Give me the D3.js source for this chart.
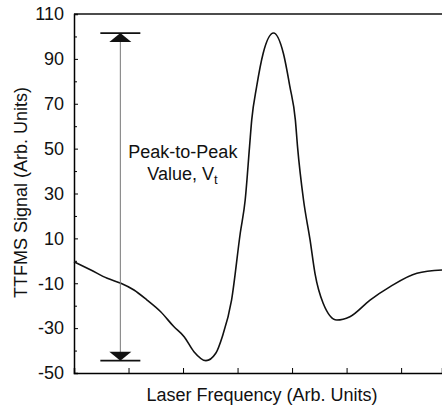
<!DOCTYPE html>
<html>
<head>
<meta charset="utf-8">
<script src="https://cdn.jsdelivr.net/npm/d3@7"></script>
<style>
  body { margin: 0; background: #fff; }
  svg text { font-family: Arial, "Liberation Sans", Helvetica, sans-serif; fill: #111; }
</style>
</head>
<body>
<div id="chart"></div>
<script>
// laser frequency (arb. units) and TTFMS signal
var freq = [0.00, 0.31, 0.61, 0.86, 1.10, 1.34, 1.59, 1.83, 2.02, 2.20, 2.42, 2.60, 2.72, 2.89,
  3.05, 3.14, 3.22, 3.26, 3.35, 3.47, 3.66, 3.84, 3.96, 4.06, 4.10, 4.21, 4.33, 4.42,
  4.57, 4.82, 5.06, 5.43, 5.80, 6.29, 6.75]
var signal = [-0.4, -4.1, -7.8, -10.0, -13.0, -17.5, -22.7, -29.3, -33.8, -40.5, -44.5, -41.2, -33.8, -17.5,
  12.4, 27.1, 50.9, 62.8, 77.6, 92.5, 101.5, 92.5, 77.6, 62.8, 50.9, 27.1, 9.3, -5.6,
  -18.9, -26.4, -24.9, -17.5, -11.5, -5.5, -4.1]
var yTicks = [-50, -30, -10, 10, 30, 50, 70, 90, 110]
var yMinor = [-40, -20, 0, 20, 40, 60, 80, 100]
var xTicks = [1, 2, 3, 4, 5, 6]
var arrowAt = 0.85

var xAxisLabel = "Laser Frequency (Arb. Units)"
var yAxisLabel = "TTFMS Signal (Arb. Units)"

var margin = { top: 14, right: 0, bottom: 33, left: 74 },
  width = 442 - margin.left - margin.right,
  height = 406 - margin.top - margin.bottom;

var svg = d3.select("#chart")
  .append("svg")
  .attr("width", 442)
  .attr("height", 406)
  .append("g")
  .attr("transform", "translate(" + margin.left + "," + margin.top + ")");

var x = d3.scaleLinear().domain([0, 6.75]).range([0, width])
var y = d3.scaleLinear().domain([-50, 110]).range([height, 0])

// left axis, ticks pointing inward
var yAxis = svg.append("g")
  .call(d3.axisLeft(y).tickValues(yTicks).tickSize(-4).tickPadding(10)
    .tickFormat(function (d) { return String(d) }))
yAxis.select(".domain").attr("stroke-width", 1.5)
yAxis.selectAll("text").attr("font-size", 18)

svg.append("g")
  .call(d3.axisLeft(y).tickValues(yMinor).tickSize(-3).tickFormat(""))
  .select(".domain").remove()

var xAxis = svg.append("g")
  .attr("transform", "translate(0," + height + ")")
  .call(d3.axisBottom(x).tickValues(xTicks).tickSize(-5).tickFormat(""))
xAxis.select(".domain").attr("stroke-width", 1.5)

// top frame line
svg.append("line")
  .attr("x1", 0).attr("x2", width)
  .attr("y1", 0).attr("y2", 0)
  .attr("stroke", "#111")
  .attr("stroke-width", 1.5)

svg.append("text")
  .attr("x", width / 2 + 4)
  .attr("y", height + 28)
  .attr("text-anchor", "middle")
  .attr("font-size", 18)
  .text(xAxisLabel)

svg.append("text")
  .attr("transform", "rotate(-90)")
  .attr("x", -height / 2 + 1)
  .attr("y", -47)
  .attr("text-anchor", "middle")
  .attr("font-size", 18)
  .text(yAxisLabel)

// the trace
var pts = freq.map(function (f, i) { return [f, signal[i]] })
var line = d3.line()
  .x(function (d) { return x(d[0]) })
  .y(function (d) { return y(d[1]) })
  .curve(d3.curveMonotoneX)

svg.append("path")
  .datum(pts)
  .attr("d", line)
  .attr("fill", "none")
  .attr("stroke", "#111")
  .attr("stroke-width", 1.6)

// peak-to-peak arrow
var peakV = d3.max(signal), troughV = d3.min(signal)
var ax = x(arrowAt)
svg.append("line")
  .attr("x1", ax).attr("x2", ax)
  .attr("y1", y(peakV) + 8).attr("y2", y(troughV) - 8)
  .attr("stroke", "#777")
  .attr("stroke-width", 1)

;[peakV, troughV].forEach(function (v, i) {
  var yy = y(v)
  var dir = i == 0 ? 1 : -1
  svg.append("line")
    .attr("x1", ax - 20).attr("x2", ax + 20)
    .attr("y1", yy).attr("y2", yy)
    .attr("stroke", "#111")
    .attr("stroke-width", 1.8)
  svg.append("path")
    .attr("d", "M" + ax + "," + yy + "L" + (ax - 11) + "," + (yy + dir * 9) + "L" + (ax + 11) + "," + (yy + dir * 9) + "Z")
    .attr("fill", "#111")
})

svg.append("text")
  .attr("x", ax + 8)
  .attr("y", 144)
  .attr("font-size", 18)
  .text("Peak-to-Peak")

var t2 = svg.append("text")
  .attr("x", ax + 27)
  .attr("y", 166)
  .attr("font-size", 18)
t2.append("tspan").text("Value, V")
t2.append("tspan").attr("dy", 4).attr("font-size", 13).text("t")
</script>
</body>
</html>
